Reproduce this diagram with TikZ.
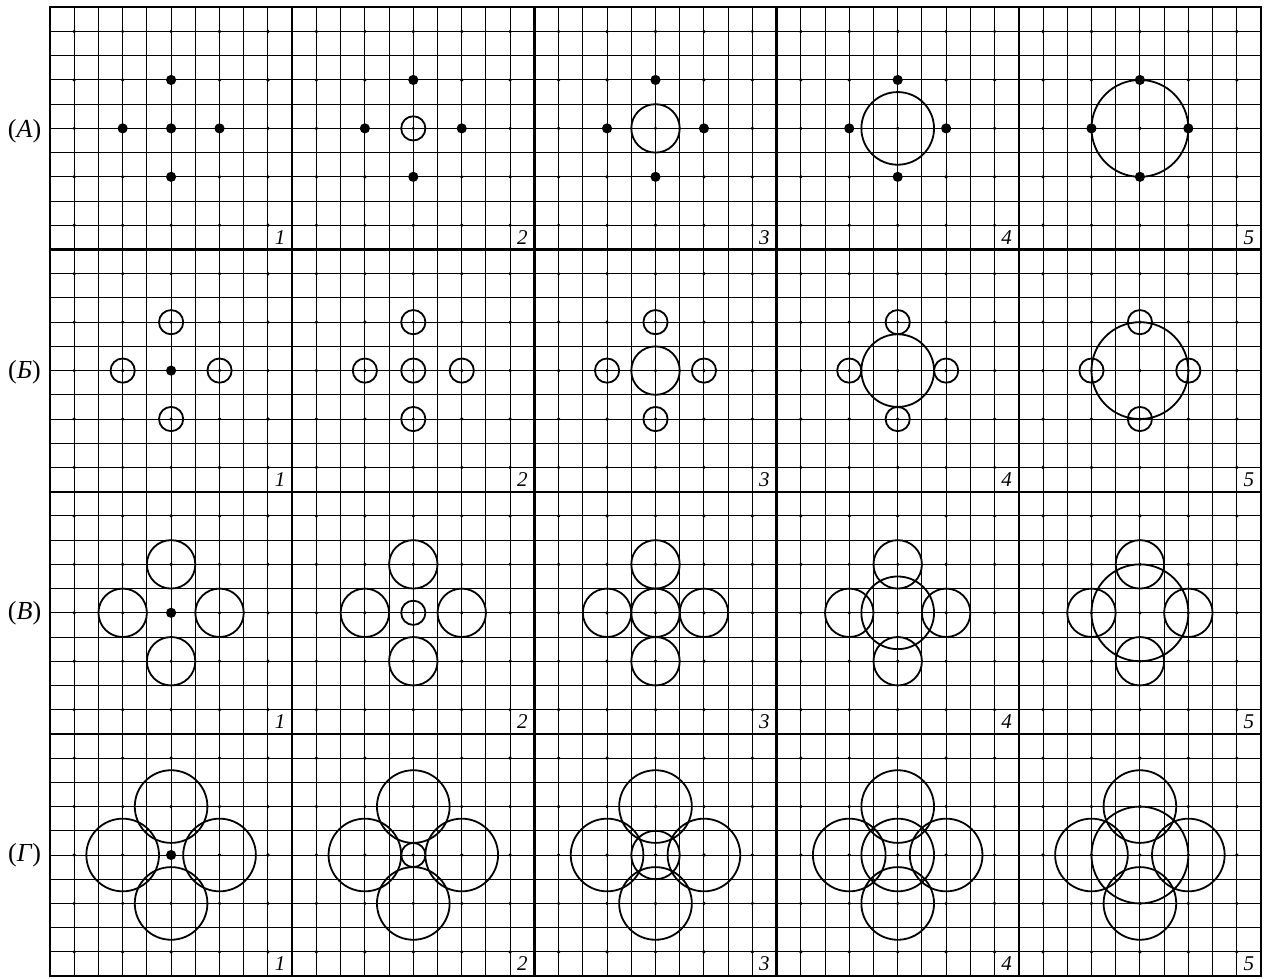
\documentclass[tikz,border=0pt]{standalone}
\usepackage{fontspec}
\setmainfont{Liberation Serif}
\usetikzlibrary{calc}
\begin{document}
\begin{tikzpicture}[x=24.22pt,y=-24.22pt,
  gridline/.style={line width=1pt,black},
  border/.style={line width=2.4pt,line cap=rect},
  ring/.style={line width=1.8pt},
  bigdot/.style={fill=black},
  smalldot/.style={fill=black},
  rowlabel/.style={font=\fontsize{26}{26}\selectfont,inner sep=0pt},
  panelnum/.style={font=\fontsize{21}{21}\selectfont\itshape,inner sep=0pt}]
\useasboundingbox (-2.0644,-0.3014) rectangle (50.124,40.08);
% fine grid
\foreach \k in {1,...,49} \draw[gridline] (\k,0) -- (\k,40);
\foreach \k in {1,...,39} \draw[gridline] (0,\k) -- (50,\k);
% panel borders
\foreach \k in {0,10,...,50} \draw[border] (\k,0) -- (\k,40);
\foreach \k in {0,10,...,40} \draw[border] (0,\k) -- (50,\k);
% small grid dots
\foreach \a in {1,3,...,49}
  \foreach \b in {1,3,...,39}
    \fill[smalldot] (\a,\b) circle[radius=0.075];
% panel contents
\foreach \j/\ro in {0/0,1/0.5,2/1,3/1.5}{
  \foreach \i/\rc in {0/0,1/0.5,2/1,3/1.5,4/2}{
    \coordinate (c\i\j) at (\i*10+5,\j*10+5);
    \ifdim\rc pt=0pt
      \fill[bigdot] (c\i\j) circle[radius=0.21];
    \else
      \draw[ring] (c\i\j) circle[radius=\rc];
    \fi
    \foreach \dx/\dy in {-2/0,2/0,0/-2,0/2}{
      \ifdim\ro pt=0pt
        \fill[bigdot] ($(c\i\j)+(\dx,\dy)$) circle[radius=0.21];
      \else
        \draw[ring] ($(c\i\j)+(\dx,\dy)$) circle[radius=\ro];
      \fi
    }
    \pgfmathtruncatemacro{\n}{\i+1}
    \node[panelnum] (n\i\j) at (\i*10+9.5,\j*10+9.5) {\n};
  }
}
% row labels
\node[rowlabel] (la) at (-1.05,5.1) {(\textit{А})};
\node[rowlabel] (lb) at (-1.05,15.05) {(\textit{Б})};
\node[rowlabel] (lv) at (-1.05,25) {(\textit{В})};
\node[rowlabel] (lg) at (-1.05,35) {(\textit{Г})};
\end{tikzpicture}
\end{document}
